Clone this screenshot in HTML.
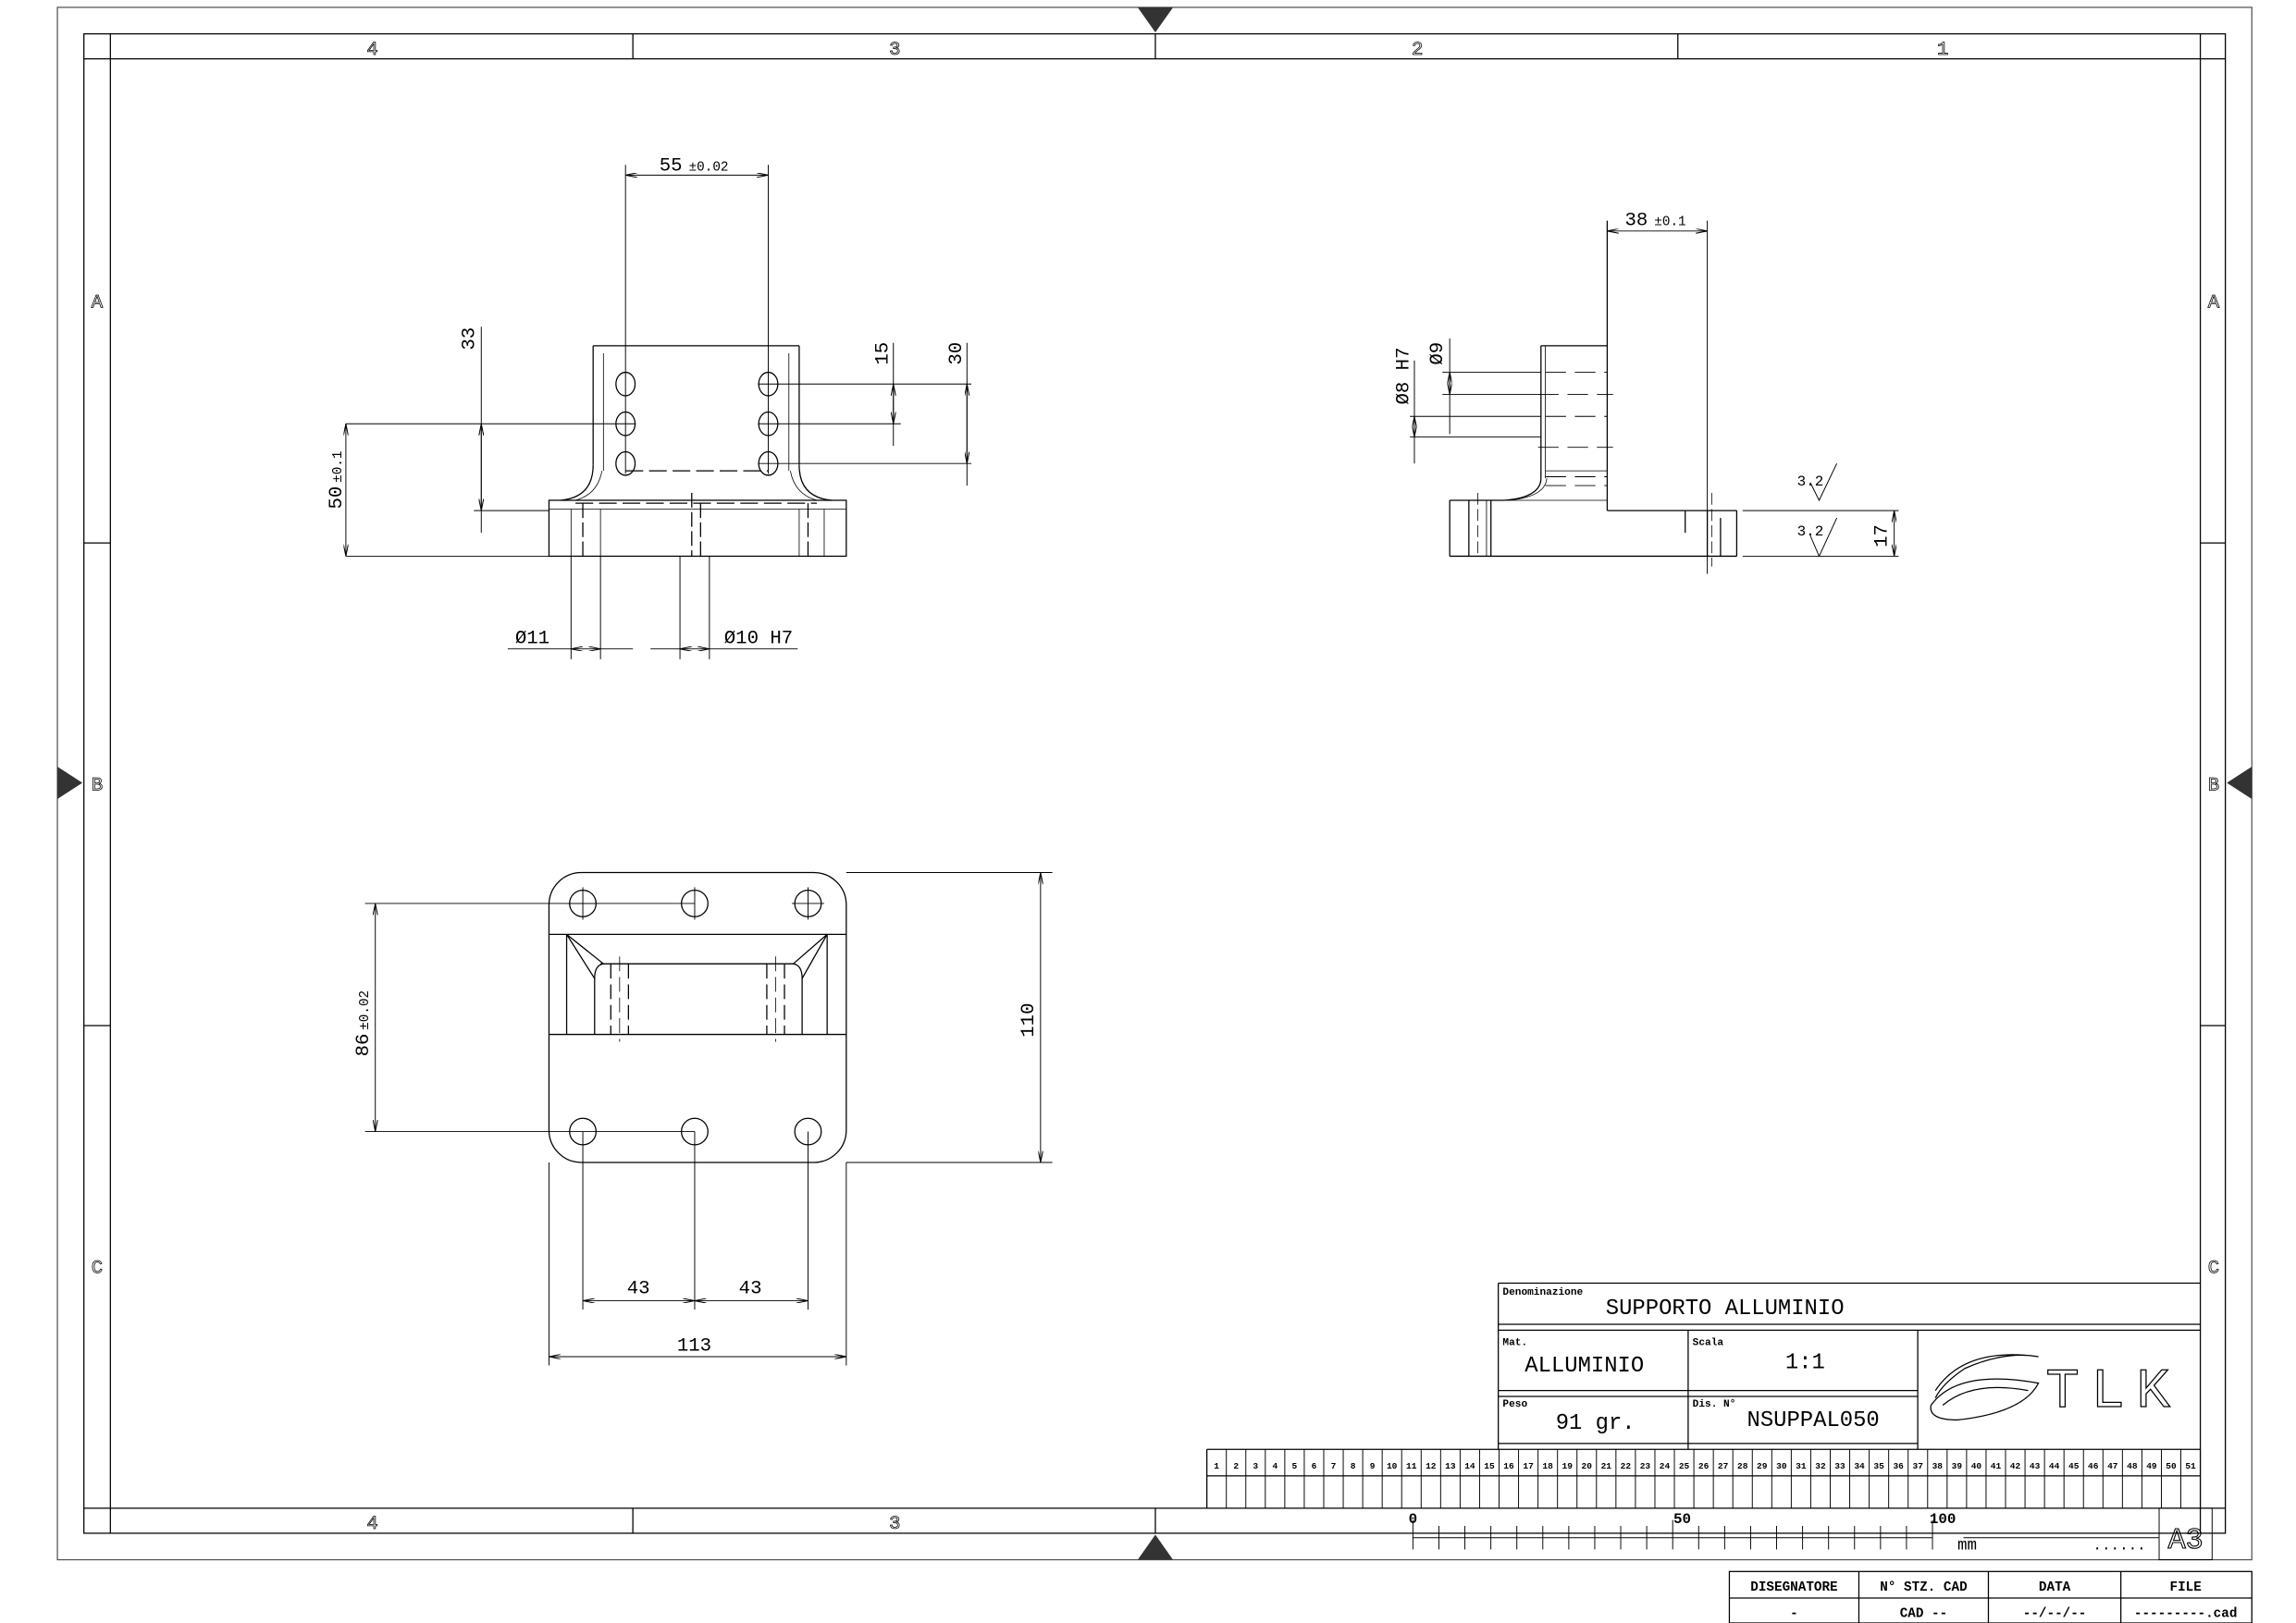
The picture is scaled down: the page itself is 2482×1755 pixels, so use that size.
<!DOCTYPE html>
<html><head><meta charset="utf-8"><style>
html,body{margin:0;padding:0;background:#fff;}
svg{display:block;}
text{font-family:"Liberation Mono","DejaVu Sans Mono",monospace;}
</style></head><body>
<svg width="2482" height="1755" viewBox="0 0 1560 1103" preserveAspectRatio="none" xmlns="http://www.w3.org/2000/svg">
<defs>
<marker id="a" viewBox="0 0 10 4" refX="10" refY="2" markerWidth="8" markerHeight="3.2" orient="auto-start-reverse" markerUnits="userSpaceOnUse"><path d="M0,0 L10,2 L0,4" fill="none" stroke="#000" stroke-width="0.8"/></marker>
</defs>
<g fill="none" stroke="#000" stroke-width="0.8">
<rect x="39" y="5" width="1491" height="1055" stroke="#555"/>
<rect x="57" y="23" width="1455" height="1019"/>
<line x1="57" y1="40" x2="1512" y2="40"/>
<line x1="57" y1="1025" x2="1512" y2="1025"/>
<line x1="75" y1="23" x2="75" y2="1042"/>
<line x1="1495" y1="23" x2="1495" y2="1042"/>
<line x1="430" y1="23" x2="430" y2="40"/><line x1="785" y1="23" x2="785" y2="40"/><line x1="1140" y1="23" x2="1140" y2="40"/>
<line x1="430" y1="1025" x2="430" y2="1042"/><line x1="785" y1="1025" x2="785" y2="1042"/>
<line x1="57" y1="369" x2="75" y2="369"/><line x1="57" y1="697" x2="75" y2="697"/>
<line x1="1495" y1="369" x2="1512" y2="369"/><line x1="1495" y1="697" x2="1512" y2="697"/>
</g>
<g fill="#333">
<polygon points="773,5 797,5 785,22"/>
<polygon points="773,1060 797,1060 785,1043"/>
<polygon points="39,521 39,543 56,532"/>
<polygon points="1530,521 1530,543 1513,532"/>
</g>
<g font-size="13" text-anchor="middle" style="fill:none" stroke="#000" stroke-width="0.5" font-family="Liberation Sans">
<text x="253" y="37">4</text><text x="608" y="37">3</text><text x="963" y="37">2</text><text x="1320" y="37">1</text>
<text x="253" y="1039">4</text><text x="608" y="1039">3</text>
<text x="66" y="209">A</text><text x="66" y="537">B</text><text x="66" y="865">C</text>
<text x="1504" y="209">A</text><text x="1504" y="537">B</text><text x="1504" y="865">C</text>
</g>

<g fill="none" stroke="#000" stroke-width="0.8">
<line x1="403" y1="235" x2="543" y2="235"/>
<line x1="403" y1="235" x2="403" y2="316"/><line x1="543" y1="235" x2="543" y2="316"/>
<line x1="410" y1="240" x2="410" y2="320" stroke-width="0.5"/><line x1="536" y1="240" x2="536" y2="320" stroke-width="0.5"/>
<path d="M403,316 Q403,338 381,340"/><path d="M543,316 Q543,338 565,340"/>
<path d="M409,320 Q406,336 391,340" stroke-width="0.5"/><path d="M537,320 Q540,336 555,340" stroke-width="0.5"/>
<rect x="373" y="340" width="202" height="38"/>
<line x1="373" y1="346" x2="575" y2="346" stroke-width="0.5"/>
<line x1="391" y1="342" x2="555" y2="342" stroke-dasharray="12,4"/>
<line x1="425" y1="320" x2="522" y2="320" stroke-dasharray="12,4"/>
<line x1="396" y1="342" x2="396" y2="378" stroke-dasharray="10,3"/>
<line x1="470" y1="335" x2="470" y2="378" stroke-dasharray="10,3"/>
<line x1="476" y1="342" x2="476" y2="378" stroke-dasharray="10,3"/>
<line x1="549" y1="342" x2="549" y2="378" stroke-dasharray="10,3"/>
<line x1="388" y1="346" x2="388" y2="378" stroke-width="0.5"/><line x1="408" y1="346" x2="408" y2="378" stroke-width="0.5"/>
<line x1="543" y1="346" x2="543" y2="378" stroke-width="0.5"/><line x1="560" y1="346" x2="560" y2="378" stroke-width="0.5"/>
<ellipse cx="425" cy="261" rx="6.5" ry="8"/><ellipse cx="425" cy="288" rx="6.5" ry="8"/><ellipse cx="425" cy="315" rx="6.5" ry="8"/>
<ellipse cx="522" cy="261" rx="6.5" ry="8"/><ellipse cx="522" cy="288" rx="6.5" ry="8"/><ellipse cx="522" cy="315" rx="6.5" ry="8"/>
<g stroke-width="0.6">
<line x1="425" y1="112" x2="425" y2="322"/><line x1="522" y1="112" x2="522" y2="322"/>
<line x1="425" y1="119" x2="522" y2="119" marker-start="url(#a)" marker-end="url(#a)"/>
<line x1="235" y1="288" x2="432" y2="288"/><line x1="235" y1="378" x2="373" y2="378"/>
<line x1="235" y1="288" x2="235" y2="378" marker-start="url(#a)" marker-end="url(#a)"/>
<line x1="327" y1="222" x2="327" y2="362"/>
<line x1="327" y1="288" x2="327" y2="347" marker-start="url(#a)" marker-end="url(#a)"/>
<line x1="322" y1="347" x2="373" y2="347"/>
<line x1="515" y1="261" x2="660" y2="261"/><line x1="515" y1="288" x2="612" y2="288"/><line x1="515" y1="315" x2="660" y2="315"/>
<line x1="607" y1="233" x2="607" y2="303"/><line x1="607" y1="261" x2="607" y2="288" marker-start="url(#a)" marker-end="url(#a)"/>
<line x1="657" y1="233" x2="657" y2="330"/><line x1="657" y1="261" x2="657" y2="315" marker-start="url(#a)" marker-end="url(#a)"/>
<line x1="388" y1="378" x2="388" y2="448"/><line x1="408" y1="378" x2="408" y2="448"/>
<line x1="345" y1="441" x2="388" y2="441"/><line x1="408" y1="441" x2="430" y2="441"/>
<line x1="388" y1="441" x2="408" y2="441" marker-start="url(#a)" marker-end="url(#a)"/>
<line x1="462" y1="378" x2="462" y2="448"/><line x1="482" y1="378" x2="482" y2="448"/>
<line x1="442" y1="441" x2="462" y2="441"/><line x1="482" y1="441" x2="542" y2="441"/>
<line x1="462" y1="441" x2="482" y2="441" marker-start="url(#a)" marker-end="url(#a)"/>
</g>
</g>
<g font-size="13">
<text x="448" y="116">55</text><text x="468" y="116" font-size="9">±0.02</text>
<text transform="translate(232,346) rotate(-90)">50</text><text transform="translate(232,328) rotate(-90)" font-size="9">±0.1</text>
<text transform="translate(322,238) rotate(-90)">33</text>
<text transform="translate(603,248) rotate(-90)">15</text>
<text transform="translate(653,248) rotate(-90)">30</text>
<text x="350" y="437">Ø11</text>
<text x="492" y="437">Ø10 H7</text>
</g>

<g fill="none" stroke="#000" stroke-width="0.8">
<line x1="1047" y1="235" x2="1092" y2="235"/>
<line x1="1047" y1="235" x2="1047" y2="325"/><line x1="1050" y1="235" x2="1050" y2="325" stroke-width="0.5"/>
<line x1="1092" y1="150" x2="1092" y2="347"/>
<path d="M1047,325 Q1047,338 1022,340"/><path d="M1051,325 Q1050,338 1024,340" stroke-width="0.5"/>
<polyline points="985,340 1022,340"/>
<line x1="1020" y1="340" x2="1092" y2="340" stroke-width="0.5"/>
<line x1="1092" y1="347" x2="1180" y2="347"/>
<line x1="985" y1="340" x2="985" y2="378"/><line x1="985" y1="378" x2="1180" y2="378"/>
<line x1="1180" y1="347" x2="1180" y2="378"/>
<line x1="1160" y1="347" x2="1160" y2="378"/><line x1="1145" y1="347" x2="1145" y2="362"/>
<line x1="1169" y1="352" x2="1169" y2="378"/><line x1="1163" y1="335" x2="1163" y2="385" stroke-dasharray="8,3" stroke-width="0.5"/>
<line x1="998" y1="340" x2="998" y2="378"/><line x1="1013" y1="340" x2="1013" y2="378"/><line x1="1010" y1="340" x2="1010" y2="378" stroke-width="0.5"/>
<line x1="1004" y1="335" x2="1004" y2="378" stroke-dasharray="8,3" stroke-width="0.5"/>
<g stroke-dasharray="14,6" stroke-width="0.6">
<line x1="1050" y1="253" x2="1092" y2="253"/><line x1="1045" y1="268" x2="1096" y2="268"/>
<line x1="1050" y1="283" x2="1092" y2="283"/><line x1="1045" y1="304" x2="1096" y2="304"/>
<line x1="1050" y1="324" x2="1092" y2="324"/>
</g>
<line x1="1050" y1="320" x2="1092" y2="320" stroke-width="0.5"/>
<line x1="1050" y1="330" x2="1092" y2="330" stroke-width="0.5" stroke-dasharray="14,6"/>
<g stroke-width="0.6">
<line x1="1160" y1="150" x2="1160" y2="390"/>
<line x1="1092" y1="157" x2="1160" y2="157" marker-start="url(#a)" marker-end="url(#a)"/>
<line x1="980" y1="253" x2="1047" y2="253"/><line x1="980" y1="268" x2="1047" y2="268"/>
<line x1="958" y1="283" x2="1047" y2="283"/><line x1="958" y1="297" x2="1047" y2="297"/>
<line x1="985" y1="230" x2="985" y2="295"/><line x1="985" y1="253" x2="985" y2="268" marker-start="url(#a)" marker-end="url(#a)"/>
<line x1="961" y1="245" x2="961" y2="315"/><line x1="961" y1="283" x2="961" y2="297" marker-start="url(#a)" marker-end="url(#a)"/>
<line x1="1184" y1="347" x2="1290" y2="347"/><line x1="1184" y1="378" x2="1290" y2="378"/>
<line x1="1287" y1="347" x2="1287" y2="378" marker-start="url(#a)" marker-end="url(#a)"/>
<polyline points="1230,328 1236,340 1248,315"/>
<polyline points="1230,364 1236,378 1248,352"/>
</g>
</g>
<g font-size="13">
<text x="1104" y="153">38</text><text x="1124" y="153" font-size="9">±0.1</text>
<text transform="translate(957,275) rotate(-90)">Ø8 H7</text>
<text transform="translate(980,248) rotate(-90)">Ø9</text>
<text x="1221" y="330" font-size="10">3.2</text>
<text x="1221" y="364" font-size="10">3.2</text>
<text transform="translate(1282,372) rotate(-90)">17</text>
</g>

<g fill="none" stroke="#000" stroke-width="0.8">
<rect x="373" y="593" width="202" height="197" rx="22"/>
<line x1="373" y1="635" x2="575" y2="635"/><line x1="373" y1="703" x2="575" y2="703"/>
<line x1="385" y1="635" x2="385" y2="703"/><line x1="562" y1="635" x2="562" y2="703"/>
<line x1="404" y1="665" x2="404" y2="703"/><line x1="545" y1="665" x2="545" y2="703"/>
<line x1="408" y1="655" x2="540" y2="655"/>
<path d="M385,635 L404,665 Q404,656 410,655 Z"/>
<path d="M562,635 L545,665 Q545,656 539,655 Z"/>
<g stroke-dasharray="10,4">
<line x1="415" y1="655" x2="415" y2="703"/><line x1="427" y1="655" x2="427" y2="703"/>
<line x1="521" y1="655" x2="521" y2="703"/><line x1="533" y1="655" x2="533" y2="703"/>
<line x1="421" y1="650" x2="421" y2="708" stroke-width="0.5"/><line x1="527" y1="650" x2="527" y2="708" stroke-width="0.5"/>
</g>
<circle cx="396" cy="614" r="9"/><circle cx="472" cy="614" r="9"/><circle cx="549" cy="614" r="9"/>
<circle cx="396" cy="769" r="9"/><circle cx="472" cy="769" r="9"/><circle cx="549" cy="769" r="9"/>
<g stroke-width="0.6">
<line x1="248" y1="614" x2="472" y2="614"/><line x1="248" y1="769" x2="472" y2="769"/>
<line x1="255" y1="614" x2="255" y2="769" marker-start="url(#a)" marker-end="url(#a)"/>
<line x1="575" y1="593" x2="715" y2="593"/><line x1="575" y1="790" x2="715" y2="790"/>
<line x1="707" y1="593" x2="707" y2="790" marker-start="url(#a)" marker-end="url(#a)"/>
<line x1="396" y1="769" x2="396" y2="890"/><line x1="472" y1="769" x2="472" y2="890"/><line x1="549" y1="769" x2="549" y2="890"/>
<line x1="396" y1="884" x2="472" y2="884" marker-start="url(#a)" marker-end="url(#a)"/>
<line x1="472" y1="884" x2="549" y2="884" marker-start="url(#a)" marker-end="url(#a)"/>
<line x1="373" y1="790" x2="373" y2="928"/><line x1="575" y1="790" x2="575" y2="928"/>
<line x1="373" y1="922" x2="575" y2="922" marker-start="url(#a)" marker-end="url(#a)"/>
<line x1="396" y1="603" x2="396" y2="625"/><line x1="385" y1="614" x2="407" y2="614"/>
<line x1="472" y1="603" x2="472" y2="625"/><line x1="549" y1="603" x2="549" y2="625"/><line x1="538" y1="614" x2="560" y2="614"/>
</g>
</g>
<g font-size="13">
<text transform="translate(250,718) rotate(-90)">86</text><text transform="translate(250,700) rotate(-90)" font-size="9">±0.02</text>
<text transform="translate(702,705) rotate(-90)">110</text>
<text x="426" y="879">43</text><text x="502" y="879">43</text>
<text x="460" y="918">113</text>
</g>

<g fill="none" stroke="#000" stroke-width="0.8">
<line x1="1018" y1="872" x2="1495" y2="872"/>
<line x1="1018" y1="872" x2="1018" y2="985"/>
<line x1="1018" y1="900" x2="1495" y2="900"/><line x1="1018" y1="904" x2="1495" y2="904"/>
<line x1="1147" y1="904" x2="1147" y2="985"/><line x1="1303" y1="904" x2="1303" y2="985"/>
<line x1="1018" y1="945" x2="1303" y2="945"/><line x1="1018" y1="949" x2="1303" y2="949"/>
<line x1="1018" y1="981" x2="1303" y2="981"/>
<line x1="820" y1="985" x2="1495" y2="985"/><line x1="820" y1="1003" x2="1495" y2="1003"/>
<line x1="820" y1="985" x2="820" y2="1025"/>
</g>
<g id="grid" fill="none" stroke="#000" stroke-width="0.6"></g>
<g font-size="7" font-weight="bold" font-family="Liberation Sans">
<text x="1021" y="880">Denominazione</text>
<text x="1021" y="914">Mat.</text><text x="1150" y="914">Scala</text>
<text x="1021" y="956">Peso</text><text x="1150" y="956">Dis. N°</text>
</g>
<g font-size="15">
<text x="1091" y="893">SUPPORTO ALLUMINIO</text>
<text x="1036" y="932">ALLUMINIO</text>
<text x="1213" y="930">1:1</text>
<text x="1057" y="971">91 gr.</text>
<text x="1187" y="969">NSUPPAL050</text>
</g>
<g fill="none" stroke="#000" stroke-width="0.8">
<path d="M1315,945 Q1335,915 1385,922 Q1362,918 1335,930 Q1320,940 1315,950"/>
<path d="M1312,955 Q1330,930 1385,940 Q1375,960 1330,965 Q1310,965 1312,955 Z"/>
<path d="M1320,955 Q1340,938 1378,945"/>
</g>
<text x="1390" y="956" font-size="38" font-family="Liberation Sans" style="fill:none" stroke="#000" stroke-width="0.8" letter-spacing="8">TLK</text>

<g fill="none" stroke="#000" stroke-width="0.6">
<line x1="785" y1="1042" x2="1467" y2="1042"/>
<line x1="960" y1="1045" x2="1313" y2="1045"/>
<line x1="1334" y1="1045" x2="1467" y2="1045"/>
<rect x="1467" y="1025" width="36" height="35"/>
<line x1="1503" y1="1042" x2="1512" y2="1042"/>
</g>
<g id="ticks" stroke="#000" stroke-width="0.6"></g>
<g font-size="10" font-weight="bold" font-family="Liberation Sans" text-anchor="middle">
<text x="960" y="1035">0</text><text x="1143" y="1035">50</text><text x="1320" y="1035">100</text>
</g>
<text x="1330" y="1053" font-size="11" font-family="Liberation Sans">mm</text>
<text x="1422" y="1053" font-size="10">......</text>
<text x="1485" y="1052" font-size="20" text-anchor="middle" font-family="Liberation Sans" style="fill:none" stroke="#000" stroke-width="0.7">A3</text>

<g fill="none" stroke="#000" stroke-width="0.8">
<rect x="1175" y="1068" width="355" height="35"/>
<line x1="1175" y1="1086" x2="1530" y2="1086"/>
<line x1="1263" y1="1068" x2="1263" y2="1103"/><line x1="1351" y1="1068" x2="1351" y2="1103"/><line x1="1441" y1="1068" x2="1441" y2="1103"/>
</g>
<g font-size="9" font-weight="bold" font-family="Liberation Sans Narrow, Liberation Sans" text-anchor="middle">
<text x="1219" y="1081">DISEGNATORE</text><text x="1307" y="1081">N° STZ. CAD</text><text x="1396" y="1081">DATA</text><text x="1485" y="1081">FILE</text>
<text x="1219" y="1099">-</text><text x="1307" y="1099">CAD --</text><text x="1396" y="1099">--/--/--</text><text x="1485" y="1099">---------.cad</text>
</g>
<script>
(function(){
var ns="http://www.w3.org/2000/svg";
var g=document.getElementById("grid");
var w=(1495-820)/51;
for(var i=1;i<=51;i++){
 var x=820+i*w;
 var l=document.createElementNS(ns,"line");
 l.setAttribute("x1",x);l.setAttribute("x2",x);l.setAttribute("y1",985);l.setAttribute("y2",1025);g.appendChild(l);
 var t=document.createElementNS(ns,"text");
 t.setAttribute("x",x-w/2);t.setAttribute("y",998);t.setAttribute("font-size","6");t.setAttribute("font-weight","bold");
 t.setAttribute("text-anchor","middle");t.setAttribute("stroke","none");t.setAttribute("fill","#000");
 t.setAttribute("font-family","Liberation Sans");t.textContent=i;g.appendChild(t);
}
var tk=document.getElementById("ticks");
for(var j=0;j<=20;j++){
 var x2=960+j*(1313-960)/20;
 var l2=document.createElementNS(ns,"line");
 l2.setAttribute("x1",x2);l2.setAttribute("x2",x2);
 l2.setAttribute("y1",(j%10==0)?1033:1037);l2.setAttribute("y2",1053);tk.appendChild(l2);
}
})();
</script>
</svg>
</body></html>
